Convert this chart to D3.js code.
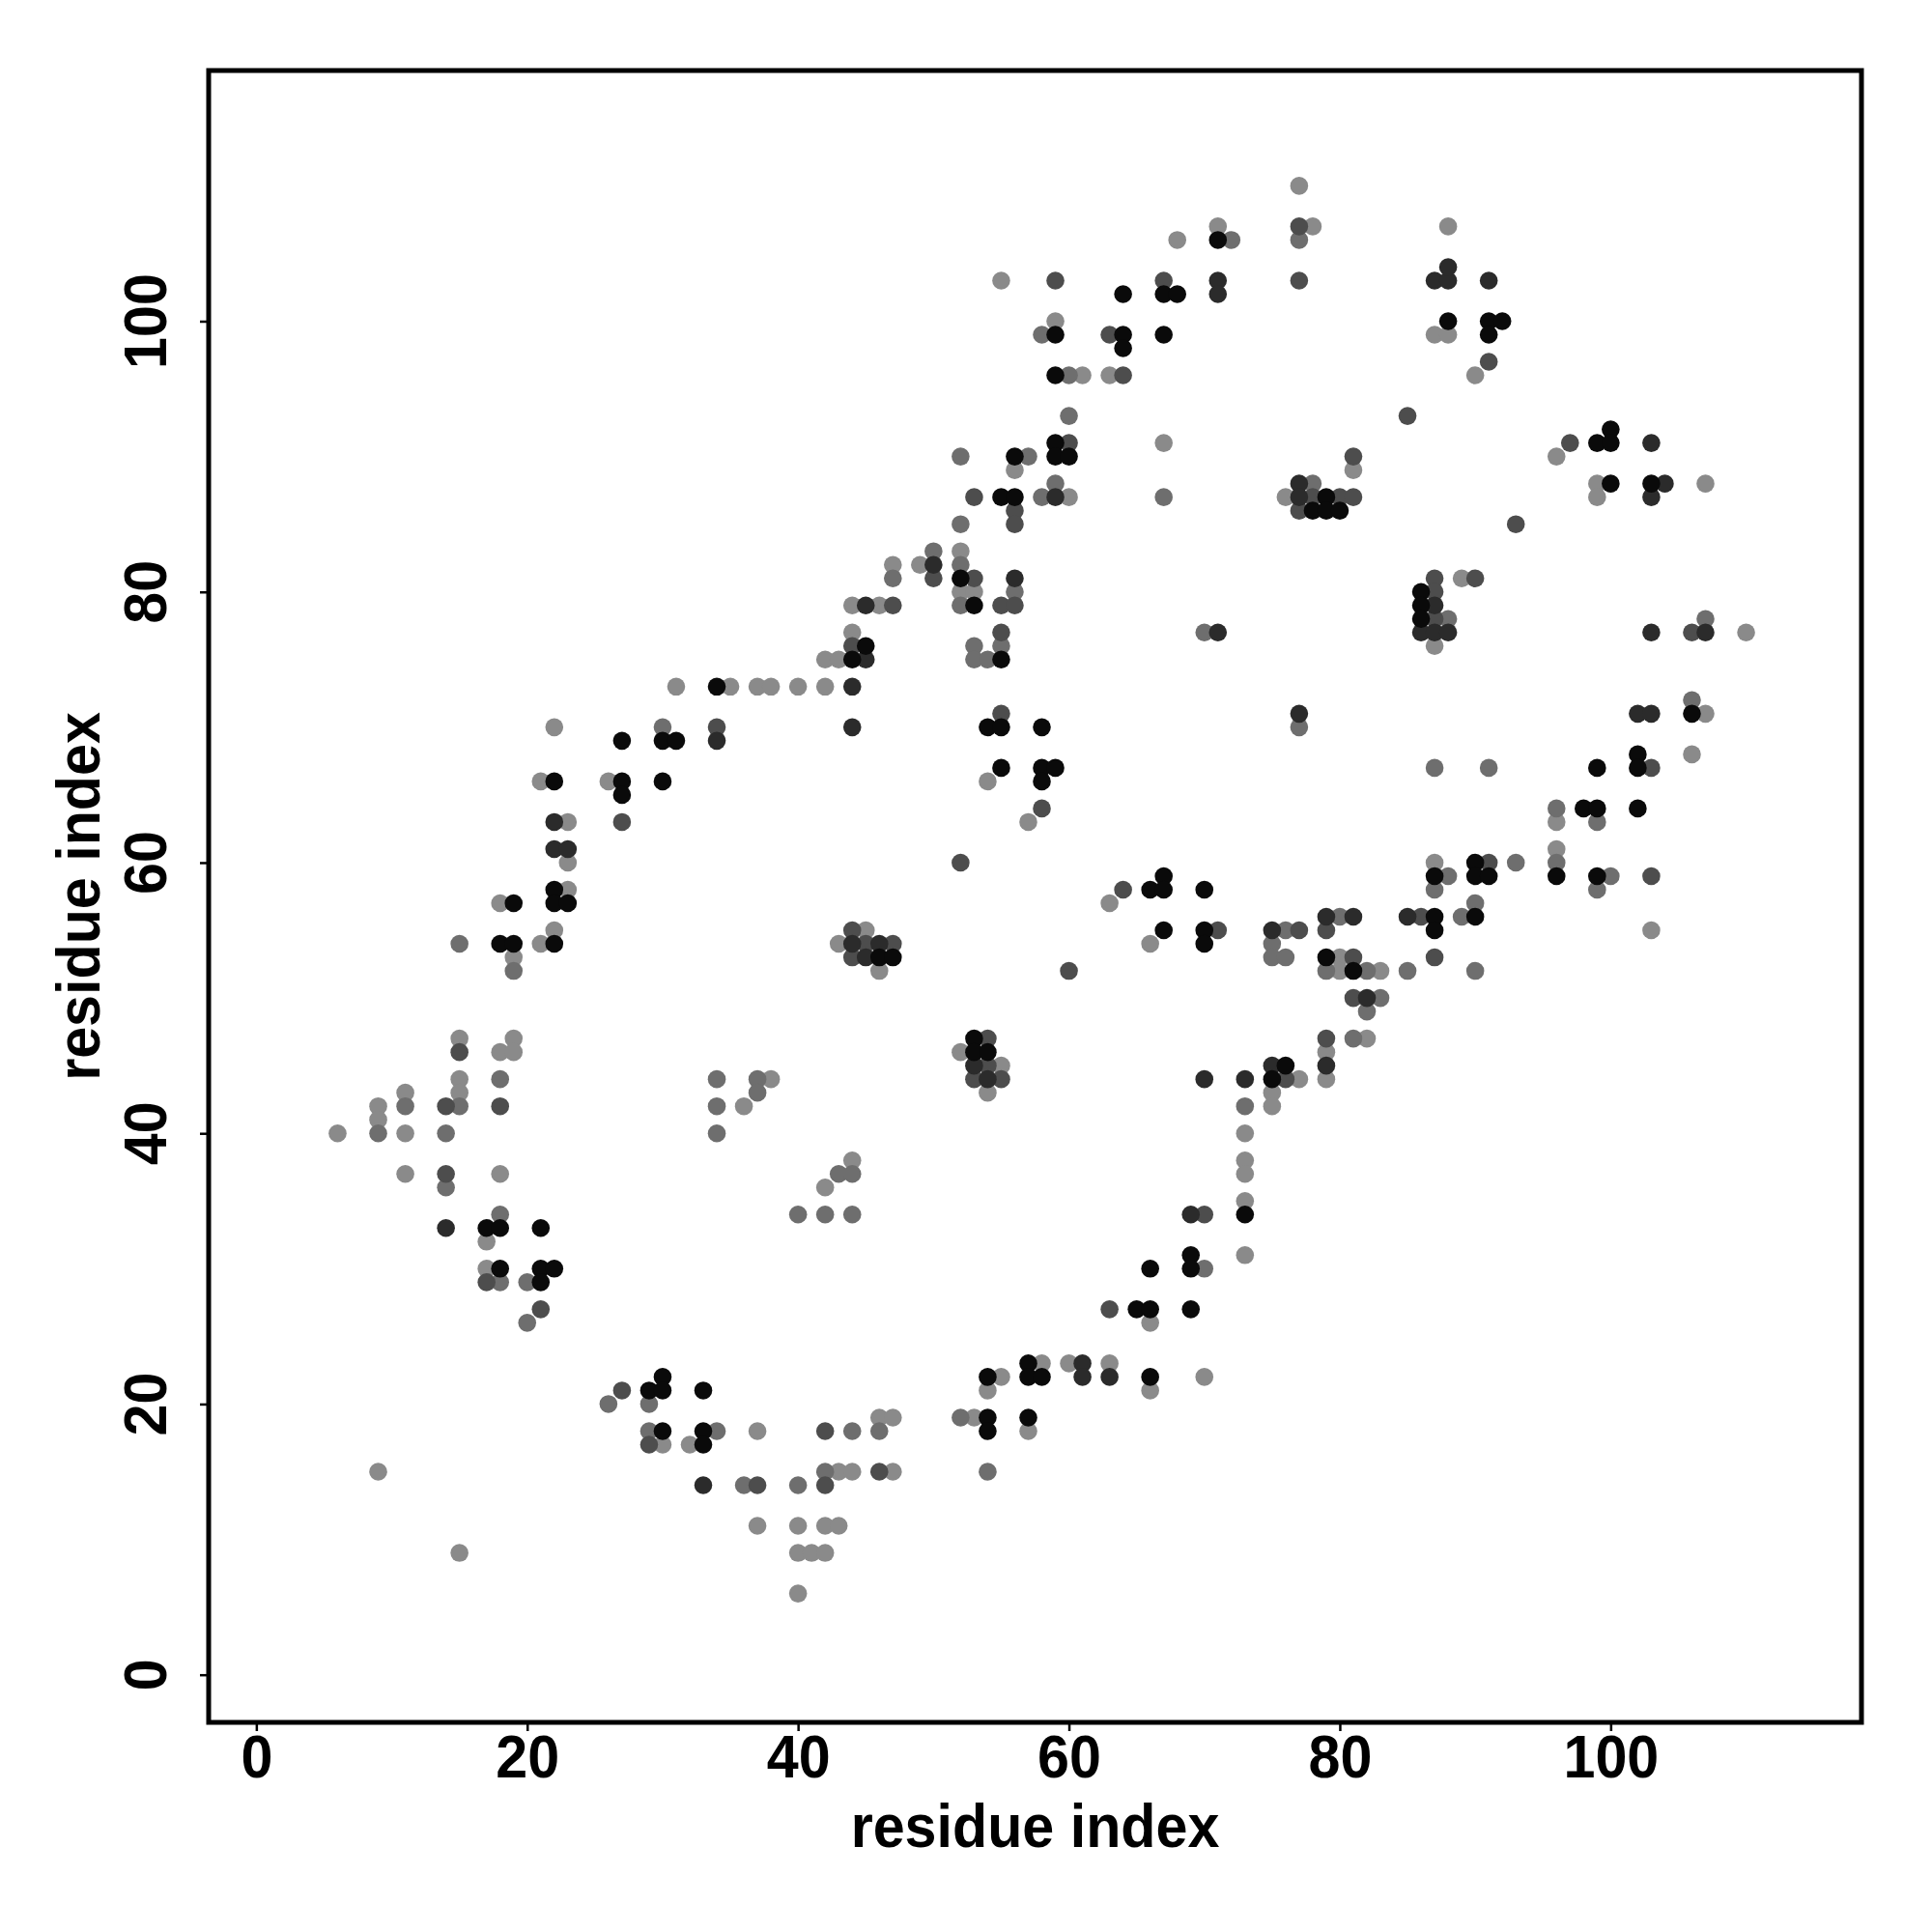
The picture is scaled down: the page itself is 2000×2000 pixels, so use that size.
<!DOCTYPE html>
<html>
<head>
<meta charset="utf-8">
<script src="https://cdn.jsdelivr.net/npm/d3@7/dist/d3.min.js"></script>
<style>
  html, body { margin: 0; padding: 0; background: #ffffff; }
  svg { display: block; }
</style>
</head>
<body>
<svg id="chart" width="2000" height="2000"></svg>
<script>
// ---------------- data (residue i, residue j) grouped by gray level ----------------
const tickValues = [0, 20, 40, 60, 80, 100];
const xLabel = "residue index";
const yLabel = "residue index";

const contactsBlack = [
  [34,73],[27,69],[30,69],[31,69],[22,66],[27,66],[30,66],[27,65],[22,58],[19,57],[22,57],[23,57],[18,54],[19,54],[22,54],
  [17,33],[18,33],[21,33],[18,30],[21,30],[22,30],[21,29],[30,22],[29,21],[30,21],[33,21],[30,18],[33,18],[33,17],
  [71,106],[64,102],[67,102],[68,102],[59,99],[64,99],[67,99],[64,98],[59,96],[59,91],[56,90],[59,90],[60,90],[55,87],[56,87],[52,81],[53,79],[45,76],
  [44,75],[55,75],[54,70],[55,70],[58,70],[55,67],[58,67],[59,67],[58,66],[67,59],[66,58],[67,58],[70,58],[67,55],[70,55],[70,54],[46,53],[47,53],[53,47],[53,46],[54,46],[75,44],
  [73,34],[69,31],[66,30],[69,30],[65,27],[66,27],[69,27],[57,23],[54,22],[57,22],[58,22],[66,22],[54,19],[57,19],[54,18],
  [88,100],[91,100],[92,100],[91,99],[100,92],[99,91],[100,91],[100,88],[103,88],[79,87],[78,86],[79,86],[80,86],[86,80],[86,79],[86,78],
  [106,71],[102,68],[99,67],[102,67],[98,64],[99,64],[102,64],[90,60],[87,59],[90,59],[91,59],[96,59],[99,59],[87,56],[90,56],[87,55],[79,53],[81,52],[76,45]
];

const contactsDark = [
  [34,69],[22,63],[22,61],[23,61],
  [14,33],[33,14],
  [71,103],[71,102],[59,87],[50,82],[56,81],[45,79],[71,77],
  [45,75],[44,73],[44,70],[75,55],[44,54],[46,54],[45,53],[53,45],[75,45],[54,44],[70,44],[73,44],
  [69,34],[61,23],[61,22],[63,22],
  [87,103],[88,103],[91,103],[88,104],[103,91],[77,88],[104,88],[77,87],[103,87],[87,79],[86,77],[87,77],[88,77],[103,77],[107,77],
  [77,71],[102,71],[103,71],[79,56],[81,56],[85,56],[82,50],[79,45]
];

const contactsMedium = [
  [34,70],[27,63],[15,46],[14,42],[18,42],
  [14,37],[17,29],[21,27],[27,21],[29,17],[37,14],
  [59,103],[67,103],[63,99],[64,96],[60,91],[53,87],[56,86],[56,85],[50,81],[53,81],[47,79],[55,79],[56,79],[55,77],[44,76],
  [55,71],[58,64],[52,60],[64,58],[44,55],[71,55],[45,54],[47,54],[44,53],[60,52],[54,47],[54,45],[53,44],[55,44],
  [70,34],[63,27],[42,18],[46,15],[42,14],
  [77,107],[77,103],[91,97],[85,93],[97,91],[81,90],[78,87],[80,87],[81,87],[77,86],[93,85],[87,81],[90,81],[87,80],[87,78],[106,77],
  [103,67],[91,60],[103,59],[86,56],[77,55],[79,55],[81,53],[87,53],[81,50],[79,47],[76,44]
];

const contactsGray = [
  [30,70],[15,54],[19,52],[18,44],[34,44],[37,44],[37,43],[11,42],[15,42],[34,42],[9,40],[14,40],[34,40],
  [14,36],[18,34],[18,29],[20,29],[20,26],[26,20],[29,20],[29,18],[34,18],[36,14],
  [72,106],[58,99],[60,96],[60,93],[52,90],[57,90],[59,88],[58,87],[67,87],[52,85],[50,83],[52,82],[47,81],[56,80],[52,79],[70,77],[53,76],[55,76],
  [53,75],[54,75],[75,54],[75,53],[73,42],
  [43,37],[44,37],[40,34],[42,34],[44,34],[70,30],[52,19],[44,18],[46,18],[42,15],[54,15],[40,14],
  [77,106],[78,88],[88,78],[107,78],
  [77,70],[106,72],[87,67],[91,67],[96,64],[99,63],[93,60],[96,60],[88,59],[100,59],[87,58],[99,58],[90,57],[80,56],[89,56],[76,55],[76,53],[79,52],[82,52],[85,52],[90,52],[83,50],[82,49],[81,47]
];

const contactsLight = [
  [31,73],[35,73],[37,73],[38,73],[22,70],[21,66],[26,66],[23,63],[23,60],[23,58],[18,57],[22,55],[21,54],[19,53],[15,47],[19,47],[18,46],[19,46],[15,44],[38,44],[11,43],[15,43],[9,42],[36,42],[9,41],[6,40],[11,40],
  [11,37],[18,37],[17,32],[17,30],[37,18],[30,17],[32,17],[37,11],[9,15],[15,9],
  [71,107],[68,106],[55,103],[59,100],[61,96],[63,96],[67,91],[56,89],[60,87],[52,83],[47,82],[49,82],[52,80],[53,80],[44,79],[46,79],[44,77],
  [42,75],[43,75],[40,73],[42,73],[54,66],[57,63],[63,57],[45,55],[43,54],[66,54],[46,52],[52,46],[55,45],[54,43],[75,43],[75,42],[73,40],
  [44,38],[42,36],[73,38],[73,37],[73,35],[73,31],[66,26],[58,23],[60,23],[63,23],[55,22],[70,22],[54,21],[66,21],[46,19],[47,19],[53,19],[57,18],[43,15],[44,15],[47,15],[40,11],[42,11],[43,11],[40,9],[41,9],[42,9],[40,6],
  [77,110],[78,107],[88,107],[87,99],[88,99],[90,96],[96,90],[81,89],[99,88],[107,88],[76,87],[99,87],[89,81],[110,77],[87,76],
  [107,71],[106,68],[96,63],[96,61],[87,60],[103,55],[80,53],[80,52],[83,52],[82,47],[79,46],[77,44],[79,44]
];

// ---------------- layout ----------------
const svg = d3.select("#chart");
const plot = { left: 216, right: 1927, top: 73, bottom: 1783 };
const domain = [1 - 0.04 * 113, 114 + 0.04 * 113];

const x = d3.scaleLinear().domain(domain).range([plot.left, plot.right]);
const y = d3.scaleLinear().domain(domain).range([plot.bottom, plot.top]);

const FONT = "'Liberation Sans', Arial, Helvetica, sans-serif";
const fontSize = 63;
const squeeze = 0.94;

const layers = [
  { data: contactsLight,  fill: "#8a8a8a" },
  { data: contactsGray,   fill: "#6e6e6e" },
  { data: contactsMedium, fill: "#4d4d4d" },
  { data: contactsDark,   fill: "#2b2b2b" },
  { data: contactsBlack,  fill: "#0a0a0a" }
];

const pts = svg.append("g");
layers.forEach(layer => {
  pts.append("g").selectAll("circle")
    .data(layer.data)
    .join("circle")
    .attr("cx", d => x(d[0]))
    .attr("cy", d => y(d[1]))
    .attr("r", 9.3)
    .attr("fill", layer.fill);
});

// frame
svg.append("rect")
  .attr("x", plot.left).attr("y", plot.top)
  .attr("width", plot.right - plot.left)
  .attr("height", plot.bottom - plot.top)
  .attr("fill", "none").attr("stroke", "#000").attr("stroke-width", 5);

// x axis
const xAxis = svg.append("g")
  .attr("transform", `translate(0,${plot.bottom})`)
  .call(d3.axisBottom(x).tickValues(tickValues).tickSize(9).tickPadding(3).tickFormat(d3.format("d")));
xAxis.select(".domain").remove();
xAxis.selectAll(".tick line").attr("stroke", "#000").attr("stroke-width", 2.5);
xAxis.selectAll(".tick text")
  .attr("transform", `scale(${squeeze},1)`)
  .attr("font-family", FONT).attr("font-weight", "bold").attr("font-size", fontSize).attr("fill", "#000");

// y axis (tick marks from axis, rotated labels placed by scale)
const yAxis = svg.append("g")
  .attr("transform", `translate(${plot.left},0)`)
  .call(d3.axisLeft(y).tickValues(tickValues).tickSize(9).tickFormat(""));
yAxis.select(".domain").remove();
yAxis.selectAll(".tick line").attr("stroke", "#000").attr("stroke-width", 2.5);

svg.append("g").selectAll("text")
  .data(tickValues)
  .join("text")
  .attr("transform", d => `translate(172,${y(d)}) rotate(-90) scale(${squeeze},1)`)
  .attr("text-anchor", "middle")
  .attr("font-family", FONT).attr("font-weight", "bold").attr("font-size", fontSize)
  .attr("fill", "#000")
  .text(d => d);

// axis titles
svg.append("text")
  .attr("transform", `translate(${(plot.left + plot.right) / 2},1912) scale(${squeeze},1)`)
  .attr("text-anchor", "middle")
  .attr("font-family", FONT).attr("font-weight", "bold").attr("font-size", fontSize)
  .text(xLabel);

svg.append("text")
  .attr("transform", `translate(103,${(plot.top + plot.bottom) / 2}) rotate(-90) scale(${squeeze},1)`)
  .attr("text-anchor", "middle")
  .attr("font-family", FONT).attr("font-weight", "bold").attr("font-size", fontSize)
  .text(yLabel);
</script>
</body>
</html>
